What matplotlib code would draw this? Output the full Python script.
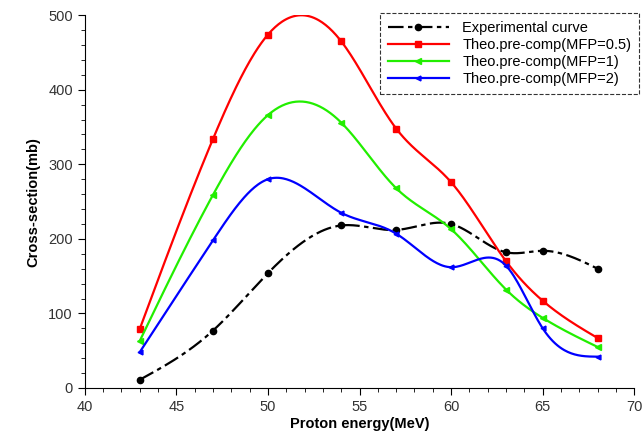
import numpy as np
import matplotlib.pyplot as plt
from matplotlib.ticker import MultipleLocator

plt.rcParams['font.family'] = ['Liberation Sans', 'DejaVu Sans']

# Energies (MeV) and cross sections (mb)
energia = np.array([43, 47, 50, 54, 57, 60, 63, 65, 68])
exp_curve = np.array([11, 77, 154, 218, 212, 220, 182, 184, 160])
mfp_05 = np.array([79, 334, 474, 465, 348, 276, 170, 117, 67])
mfp_1 = np.array([63, 259, 366, 356, 268, 213, 132, 94, 55])
mfp_2 = np.array([48, 198, 280, 235, 207, 162, 164, 80, 42])


def spline_natural(x, y, xs):
    # natural cubic spline through the points
    n = len(x)
    h = np.diff(x).astype(float)
    A = np.zeros((n, n))
    r = np.zeros(n)
    A[0, 0] = A[-1, -1] = 1
    for i in range(1, n - 1):
        A[i, i - 1] = h[i - 1]
        A[i, i] = 2 * (h[i - 1] + h[i])
        A[i, i + 1] = h[i]
        r[i] = 3 * ((y[i + 1] - y[i]) / h[i] - (y[i] - y[i - 1]) / h[i - 1])
    c = np.linalg.solve(A, r)
    b = (y[1:] - y[:-1]) / h - h * (2 * c[:-1] + c[1:]) / 3
    d = (c[1:] - c[:-1]) / (3 * h)
    k = np.clip(np.searchsorted(x, xs) - 1, 0, n - 2)
    t = xs - x[k]
    return y[k] + b[k] * t + c[k] * t**2 + d[k] * t**3


xs = np.linspace(energia[0], energia[-1], 400)

fig = plt.figure(figsize=(6.42, 4.47), dpi=100)
ax = fig.add_axes([0.132, 0.132, 0.856, 0.834])

series = [
    (exp_curve, 'black', 'o', 'Experimental curve', 4.5),
    (mfp_05, 'red', 's', 'Theo.pre-comp(MFP=0.5)', 4.5),
    (mfp_1, '#22ee00', '<', 'Theo.pre-comp(MFP=1)', 4),
    (mfp_2, 'blue', '<', 'Theo.pre-comp(MFP=2)', 3.5),
]

for vals, col, mk, lab, ms in series:
    ls = (0, (7, 2, 2, 2)) if col == 'black' else '-'
    ax.plot(xs, spline_natural(energia, vals, xs), color=col, lw=1.6, ls=ls)
    ax.plot(energia, vals, mk, color=col, ms=ms)
    ax.plot([], [], color=col, lw=1.6, ls=ls, marker=mk, ms=ms, label=lab)

ax.set_xlim(40, 70)
ax.set_ylim(0, 500)
ax.xaxis.set_major_locator(MultipleLocator(5))
ax.xaxis.set_minor_locator(MultipleLocator(1))
ax.yaxis.set_major_locator(MultipleLocator(100))
ax.yaxis.set_minor_locator(MultipleLocator(20))
ax.tick_params(which='major', direction='out', length=5, labelsize=10.5,
               labelcolor='#333333')
ax.tick_params(which='minor', direction='out', length=3)
ax.spines['top'].set_visible(False)
ax.spines['right'].set_visible(False)

ax.set_xlabel('Proton energy(MeV)', fontsize=10.5, fontweight='bold', labelpad=2)
ax.set_ylabel('Cross-section(mb)', fontsize=10.5, fontweight='bold', labelpad=6)

leg = ax.legend(loc='upper left', bbox_to_anchor=(0.537, 1.005), fontsize=10.5,
                frameon=True, fancybox=False, handlelength=4.2,
                borderpad=0.55, labelspacing=0.2, handletextpad=0.9,
                borderaxespad=0)
leg.get_frame().set_edgecolor('black')
leg.get_frame().set_linestyle('--')
leg.get_frame().set_linewidth(0.8)

fig.savefig('out.png', dpi=100)
